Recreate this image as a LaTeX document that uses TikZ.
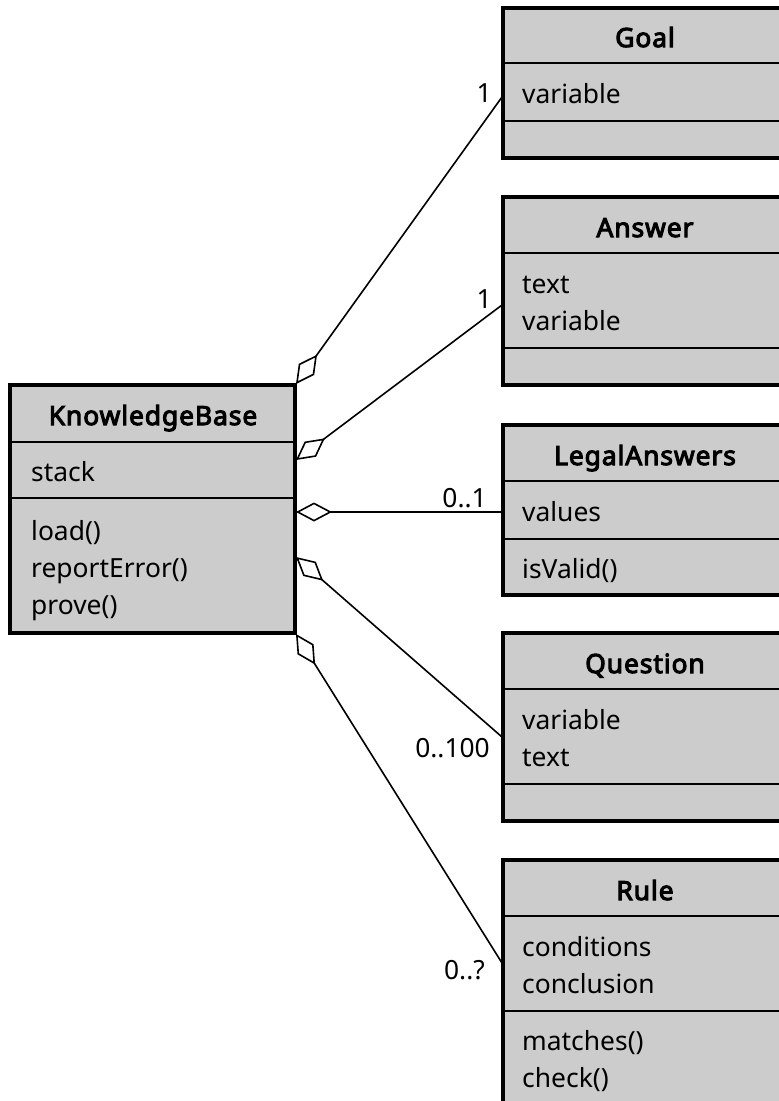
\documentclass[tikz,border=0pt]{standalone}
\usepackage{fontspec}
\setmainfont{Noto Sans}
\newfontfamily\ttlfont{Noto Sans}[FakeBold=4, LetterSpace=3.5]
\usetikzlibrary{arrows.meta}
\definecolor{boxgray}{HTML}{CCCCCC}
\begin{document}
\begin{tikzpicture}[x=1pt,y=-1pt,
  cls/.style={draw=black, line width=3.5pt, fill=boxgray, anchor=north west, minimum width=284pt, inner sep=0pt, outer sep=0pt},
  kbcls/.style={cls, minimum width=285pt},
  divline/.style={line width=2pt},
  txt/.style={anchor=base west, inner sep=0pt, font=\fontsize{26.4}{30}\selectfont},
  ttl/.style={anchor=base, inner sep=0pt, font=\ttlfont\fontsize{26.4}{30}\selectfont},
  mult/.style={anchor=base east, inner sep=0pt, font=\fontsize{26.4}{30}\selectfont},
  agg/.style={line width=1.6pt, {Diamond[open,length=36pt,width=19pt]}-}
]
\useasboundingbox (0,0) rectangle (779,1101);
\clip (0,0) rectangle (779,1101);
\fill[white] (0,0) rectangle (779,1101);

% KnowledgeBase
\node[kbcls, minimum height=248pt] (kb) at (10,385) {};
\draw[divline] (kb.west |- 0,442) -- (kb.east |- 0,442);
\draw[divline] (kb.west |- 0,498) -- (kb.east |- 0,498);
\node[ttl] (kbt) at (153,425) {KnowledgeBase};
\node[txt] (kb1) at (31,481) {stack};
\node[txt] (kb2) at (31,540) {load()};
\node[txt] (kb3) at (31,577) {reportError()};
\node[txt] (kb4) at (31,614) {prove()};

% Goal
\node[cls, minimum height=150pt] (goal) at (503,8) {};
\draw[divline] (goal.west |- 0,63) -- (goal.east |- 0,63);
\draw[divline] (goal.west |- 0,121) -- (goal.east |- 0,121);
\node[ttl] (goalt) at (645,47) {Goal};
\node[txt] (goal1) at (522,103) {variable};

% Answer
\node[cls, minimum height=188pt] (ans) at (503,197) {};
\draw[divline] (ans.west |- 0,253) -- (ans.east |- 0,253);
\draw[divline] (ans.west |- 0,348) -- (ans.east |- 0,348);
\node[ttl] (anst) at (645,237) {Answer};
\node[txt] (ans1) at (522,293) {text};
\node[txt] (ans2) at (522,330) {variable};

% LegalAnswers
\node[cls, minimum height=170pt] (la) at (503,425) {};
\draw[divline] (la.west |- 0,481) -- (la.east |- 0,481);
\draw[divline] (la.west |- 0,539) -- (la.east |- 0,539);
\node[ttl] (lat) at (645,465) {LegalAnswers};
\node[txt] (la1) at (522,521) {values};
\node[txt] (la2) at (522,578) {isValid()};

% Question
\node[cls, minimum height=188pt] (q) at (503,633) {};
\draw[divline] (q.west |- 0,689) -- (q.east |- 0,689);
\draw[divline] (q.west |- 0,784) -- (q.east |- 0,784);
\node[ttl] (qt) at (645,673) {Question};
\node[txt] (q1) at (522,729) {variable};
\node[txt] (q2) at (522,766) {text};

% Rule
\node[cls, minimum height=280pt] (rule) at (503,860) {};
\draw[divline] (rule.west |- 0,916) -- (rule.east |- 0,916);
\draw[divline] (rule.west |- 0,1011) -- (rule.east |- 0,1011);
\node[ttl] (rulet) at (645,900) {Rule};
\node[txt] (rule1) at (522,956) {conditions};
\node[txt] (rule2) at (522,993) {conclusion};
\node[txt] (rule3) at (522,1050) {matches()};
\node[txt] (rule4) at (522,1087) {check()};

% connector end points
\coordinate (sG) at (296,384);
\coordinate (sA) at (296,460);
\coordinate (sL) at (296,512);
\coordinate (sQ) at (296,557);
\coordinate (sR) at (296,634);
\coordinate (eG) at (502,97);
\coordinate (eA) at (502,305);
\coordinate (eL) at (502,512);
\coordinate (eQ) at (502,737);
\coordinate (eR) at (502,963);

\draw[agg] (sG) -- (eG);
\draw[agg] (sA) -- (eA);
\draw[agg] (sL) -- (eL);
\draw[agg] (sQ) -- (eQ);
\draw[agg] (sR) -- (eR);

\node[mult] (mG) at (492,102) {1};
\node[mult] (mA) at (492,308) {1};
\node[mult] (mL) at (487,507) {0..1};
\node[mult] (mQ) at (490,757) {0..100};
\node[mult] (mR) at (485,979) {0..?};
\end{tikzpicture}
\end{document}
